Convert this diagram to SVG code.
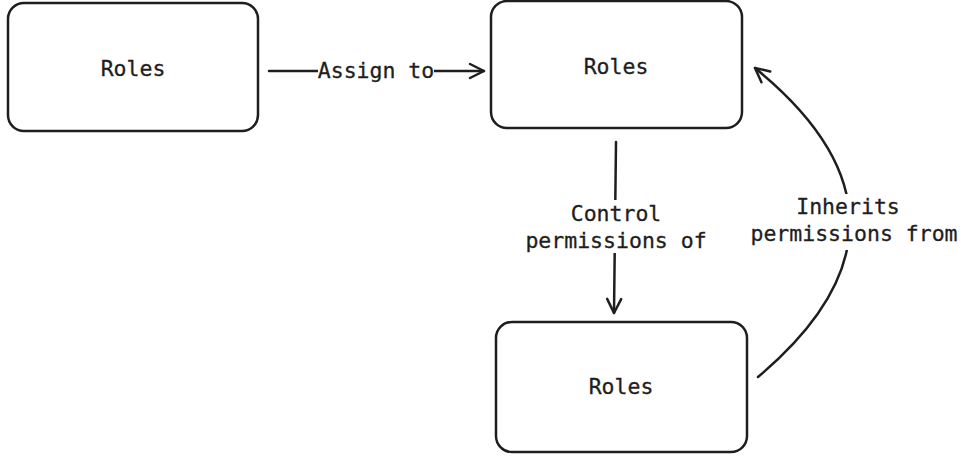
<svg xmlns="http://www.w3.org/2000/svg" width="961" height="457" viewBox="0 0 961 457">
<defs>
<style>
.box{fill:#fff;stroke:#1e1e1e;stroke-width:2.5}
.t{font-family:"DejaVu Sans Mono","Liberation Mono",monospace;font-size:21.5px;fill:#1e1e1e;stroke:#1e1e1e;stroke-width:0.3;text-anchor:middle}
.c{fill:none;stroke:#1e1e1e;stroke-width:2.5;stroke-linecap:round}
.bg{fill:#fff}
</style>
<marker id="ah" viewBox="0 0 20 20" refX="18" refY="10" markerWidth="20" markerHeight="20" markerUnits="userSpaceOnUse" orient="auto">
<path d="M4,3 L18,10 L4,17" fill="none" stroke="#1e1e1e" stroke-width="2.5" stroke-linecap="round" stroke-linejoin="round"/>
</marker>
</defs>
<rect width="961" height="457" fill="#fff"/>
<g id="connectors">
<path class="c" d="M269,71 L484,71" marker-end="url(#ah)"/>
<path class="c" d="M616,142 L614,313" marker-end="url(#ah)"/>
<path class="c" d="M758,377 Q943,221 755,68" marker-end="url(#ah)"/>
<rect class="bg" x="318" y="58" width="116" height="28"/>
<rect class="bg" x="550" y="200" width="162" height="53"/>
<rect class="bg" x="748" y="194" width="212" height="56"/>
<text class="t" x="376" y="78">Assign to</text>
<text class="t" x="616" y="221">Control</text>
<text class="t" x="616" y="248">permissions of</text>
<text class="t" x="848" y="214">Inherits</text>
<text class="t" x="854" y="241">permissions from</text>
</g>
<g id="node1">
<rect class="box" x="8" y="3" width="250" height="128" rx="16"/>
<text class="t" x="133" y="76">Roles</text>
</g>
<g id="node2">
<rect class="box" x="491" y="1" width="251" height="127" rx="16"/>
<text class="t" x="616" y="74">Roles</text>
</g>
<g id="node3">
<rect class="box" x="496" y="322" width="251" height="130" rx="16"/>
<text class="t" x="621" y="394">Roles</text>
</g>
</svg>
